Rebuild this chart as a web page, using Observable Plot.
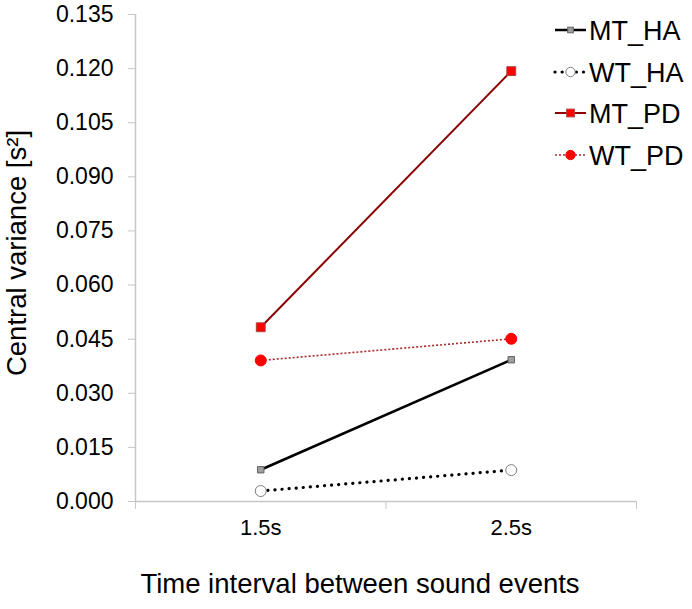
<!DOCTYPE html>
<html>
<head>
<meta charset="utf-8">
<script src="https://cdn.jsdelivr.net/npm/d3@7"></script>
<script src="https://cdn.jsdelivr.net/npm/@observablehq/plot@0.6"></script>
<style>
  html, body { margin: 0; padding: 0; background: #fff; }
  #wrap { position: relative; width: 692px; height: 609px; font-family: "Liberation Sans", Arial, sans-serif; }
  #legend { position: absolute; left: 0; top: 0; }
</style>
</head>
<body>
<div id="wrap"></div>
<script>
const categories = ["1.5s", "2.5s"];
const seriesNames = ["MT_HA", "WT_HA", "MT_PD", "WT_PD"];
const mtHA = [0.0088, 0.0393];
const wtHA = [0.0029, 0.0087];
const mtPD = [0.0483, 0.1193];
const wtPD = [0.0391, 0.0451];
const yTicks = [0, 0.015, 0.03, 0.045, 0.06, 0.075, 0.09, 0.105, 0.12, 0.135];

const styles = {
  MT_HA: {stroke: "#000000", width: 2.5, dash: null, cap: "butt", symbol: "square", r: 3.6, fill: "#a0a0a0", mstroke: "#606060"},
  WT_HA: {stroke: "#000000", width: 3.2, dash: "0.1,7", cap: "round", symbol: "circle", r: 5.5, fill: "#ffffff", mstroke: "#808080"},
  MT_PD: {stroke: "#8b0000", width: 2, dash: null, cap: "butt", symbol: "square", r: 5, fill: "#ff0000", mstroke: "#b04040"},
  WT_PD: {stroke: "#a52a2a", width: 1.6, dash: "2,2", cap: "butt", symbol: "circle", r: 5.5, fill: "#ff0000", mstroke: "#ff0000"}
};
const valuesBySeries = {MT_HA: mtHA, WT_HA: wtHA, MT_PD: mtPD, WT_PD: wtPD};
const rows = seriesNames.flatMap(s => categories.map((c, i) => ({series: s, cat: c, xi: i + 0.5, value: valuesBySeries[s][i]})));

const marks = [
  Plot.ruleY([0], {stroke: "#c6c6c6", strokeWidth: 1.5}),
  Plot.ruleX([0], {stroke: "#c6c6c6", strokeWidth: 1.5}),
  Plot.axisY({ticks: yTicks, tickFormat: d3.format(".3f"), tickSize: 7, tickPadding: 15, fontSize: 23, stroke: "#c6c6c6", label: null}),
  Plot.axisX({ticks: [0, 1, 2], tickFormat: () => "", tickSize: 8, stroke: "#c6c6c6", label: null}),
  Plot.axisX({ticks: [0.5, 1.5], tickFormat: d => categories[Math.round(d - 0.5)], tickSize: 0, tickPadding: 18, fontSize: 22, label: null}),
  Plot.text(["Central variance [s²]"], {frameAnchor: "left", textAnchor: "middle", lineAnchor: "middle", dx: -118, dy: -5, rotate: -90, fontSize: 27.5, fill: "#000"}),
  Plot.text(["Time interval between sound events"], {frameAnchor: "bottom", textAnchor: "middle", dx: -26, dy: 91, fontSize: 27.5, fill: "#000"})
];
for (const s of seriesNames) {
  const st = styles[s];
  const data = rows.filter(d => d.series === s);
  marks.push(Plot.line(data, {x: "xi", y: "value", stroke: st.stroke, strokeWidth: st.width, strokeDasharray: st.dash, strokeLinecap: st.cap}));
}
for (const s of seriesNames) {
  const st = styles[s];
  const data = rows.filter(d => d.series === s);
  marks.push(Plot.dot(data, {x: "xi", y: "value", symbol: st.symbol, r: st.r, fill: st.fill, stroke: st.mstroke, strokeWidth: 1}));
}

const chart = Plot.plot({
  width: 692,
  height: 609,
  marginLeft: 135,
  marginRight: 56,
  marginTop: 14,
  marginBottom: 108,
  style: {fontFamily: "'Liberation Sans', Arial, sans-serif", color: "#000", background: "#fff"},
  x: {type: "linear", domain: [0, 2]},
  y: {domain: [0, 0.135]},
  marks
});
document.getElementById("wrap").appendChild(chart);

// Legend overlay
const ns = "http://www.w3.org/2000/svg";
const leg = document.createElementNS(ns, "svg");
leg.setAttribute("id", "legend");
leg.setAttribute("width", 692);
leg.setAttribute("height", 200);
const rowY = [30, 72, 113, 155];
seriesNames.forEach((s, i) => {
  const st = styles[s];
  const y = rowY[i];
  const line = document.createElementNS(ns, "line");
  line.setAttribute("x1", 555); line.setAttribute("x2", 586);
  line.setAttribute("y1", y); line.setAttribute("y2", y);
  line.setAttribute("stroke", st.stroke);
  line.setAttribute("stroke-width", st.width);
  line.setAttribute("stroke-linecap", st.cap);
  if (st.dash) line.setAttribute("stroke-dasharray", st.dash);
  leg.appendChild(line);
  let m;
  if (st.symbol === "square") {
    const a = st.r * 1.55;
    m = document.createElementNS(ns, "rect");
    m.setAttribute("x", 570.5 - a / 2); m.setAttribute("y", y - a / 2);
    m.setAttribute("width", a); m.setAttribute("height", a);
  } else {
    m = document.createElementNS(ns, "circle");
    m.setAttribute("cx", 570.5); m.setAttribute("cy", y); m.setAttribute("r", st.r * 0.85);
  }
  m.setAttribute("fill", st.fill);
  m.setAttribute("stroke", st.mstroke);
  leg.appendChild(m);
  const t = document.createElementNS(ns, "text");
  t.setAttribute("x", 589); t.setAttribute("y", y);
  t.setAttribute("dy", "0.36em");
  t.setAttribute("font-size", 27);
  t.setAttribute("font-family", "'Liberation Sans', Arial, sans-serif");
  t.setAttribute("fill", "#000");
  t.textContent = s;
  leg.appendChild(t);
});
document.getElementById("wrap").appendChild(leg);
</script>
</body>
</html>
